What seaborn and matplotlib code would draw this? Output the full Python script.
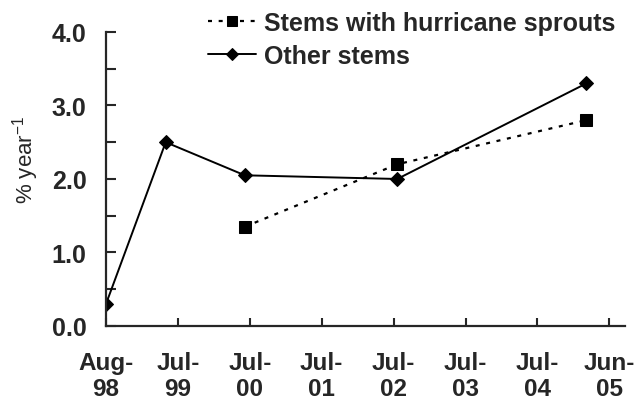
import pandas as pd
import matplotlib
matplotlib.use('Agg')
import matplotlib.pyplot as plt
import seaborn as sns
from matplotlib.ticker import MultipleLocator, FormatStrFormatter

# 데이터 (x = Aug-98 이후 경과 년수)
tick_labels = ['Aug-\n98', 'Jul-\n99', 'Jul-\n00', 'Jul-\n01', 'Jul-\n02', 'Jul-\n03', 'Jul-\n04', 'Jun-\n05']
other_x = [0.0, 0.83, 1.93, 4.05, 6.68]
other_y = [0.30, 2.50, 2.05, 2.00, 3.30]
sprout_x = [1.93, 4.05, 6.68]
sprout_y = [1.35, 2.20, 2.80]

sprout = pd.DataFrame({'x': sprout_x, 'y': sprout_y})
other = pd.DataFrame({'x': other_x, 'y': other_y})

sns.set_style('ticks')
plt.rcParams['font.family'] = ['Liberation Sans', 'DejaVu Sans']
plt.rcParams['mathtext.fontset'] = 'custom'
plt.rcParams['mathtext.rm'] = 'Liberation Sans'
plt.rcParams['mathtext.it'] = 'Liberation Sans'

fig = plt.figure(figsize=(6.36, 4.02), dpi=100)
ax = fig.add_axes([0.1667, 0.1866, 0.8163, 0.7314])

sns.lineplot(data=sprout, x='x', y='y', ax=ax, color='black', lw=1.6,
             linestyle=(0, (1.8, 3)), marker='s', markersize=8.5,
             markeredgecolor='black', label='Stems with hurricane sprouts')
sns.lineplot(data=other, x='x', y='y', ax=ax, color='black', lw=1.4,
             marker='D', markersize=7.5, markeredgecolor='black',
             label='Other stems')

ax.set_xlim(0, 7.22)
ax.set_ylim(0, 4.0)
ax.set_xticks(range(len(tick_labels)))
ax.set_xticklabels(tick_labels, fontsize=17.5, fontweight='bold', linespacing=1.15)
ax.yaxis.set_major_locator(MultipleLocator(1.0))
ax.yaxis.set_minor_locator(MultipleLocator(0.5))
ax.yaxis.set_major_formatter(FormatStrFormatter('%.1f'))
for t in ax.get_yticklabels():
    t.set_fontsize(18)
    t.set_fontweight('bold')
ax.tick_params(axis='x', direction='in', length=6, width=1.5, pad=18)
ax.tick_params(axis='y', which='both', direction='in', length=7, width=1.5, pad=14)
ax.set_xlabel('')
ax.set_ylabel('% year$^{-1}$', fontsize=16)
ax.yaxis.set_label_coords(-0.126, 0.568)

sns.despine(ax=ax)
for s in ['left', 'bottom']:
    ax.spines[s].set_linewidth(1.6)

leg = ax.legend(loc='upper left', bbox_to_anchor=(198 / 636, 1.0 - 2 / 402),
                bbox_transform=fig.transFigure, frameon=False,
                prop={'size': 18, 'weight': 'bold'}, handlelength=1.9,
                handletextpad=0.32, labelspacing=0.35, borderaxespad=0.0,
                markerscale=0.85)

fig.savefig('out.png', dpi=100)
